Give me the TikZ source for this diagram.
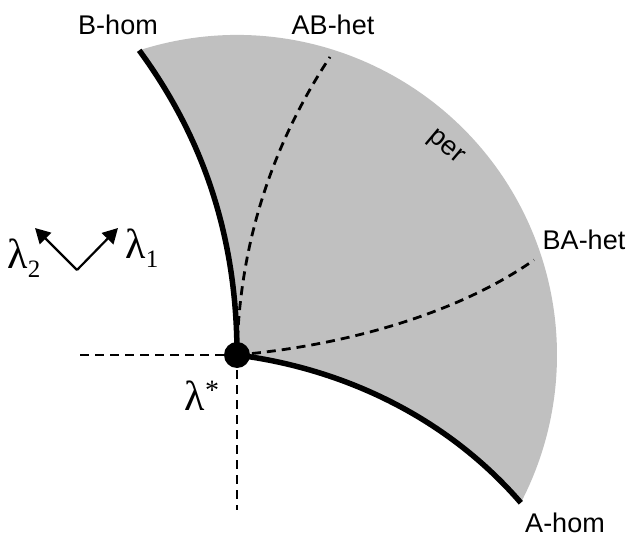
\documentclass[tikz,border=0pt]{standalone}
\usepackage{fontspec}
\setmainfont{Liberation Sans}
\newfontfamily\greekfont{Liberation Serif}
\usepackage{tikz}
\usetikzlibrary{arrows.meta, positioning}
\definecolor{regiongray}{RGB}{192, 192, 192}
\newcommand{\lowidx}[1]{{\fontsize{25}{25}\selectfont\raisebox{-9pt}{#1}}}
\newcommand{\highidx}[1]{{\fontsize{28}{28}\selectfont\raisebox{11pt}{#1}}}

\begin{document}
\begin{tikzpicture}[
    x=1pt, y=1pt,
    hom/.style={line width=5.5pt, black},
    het/.style={line width=2.8pt, dash pattern=on 9pt off 6pt},
    label/.style={font=\fontsize{27}{32}\selectfont, inner sep=0pt},
    greek/.style={font=\greekfont\fontsize{42}{46}\selectfont, inner sep=0pt},
    axis/.style={-{Triangle[length=15pt, width=16pt]}, line width=2.2pt}
]
\useasboundingbox (0,0) rectangle (634,-540);

% Critical point and curve ends
\coordinate (crit) at (237,-355);
\coordinate (bhom) at ([shift={(107.8:320)}]crit);
\coordinate (ahom) at ([shift={(-27.5:320)}]crit);
\coordinate (abhet) at (330,-57);
\coordinate (bahet) at (534,-260);
\coordinate (hleft) at (80,-355);
\coordinate (vbot) at (237,-510);

% Periodic region
\fill[regiongray] (crit) .. controls (237,-240) and (205,-140) .. (bhom)
    arc[start angle=107.8, end angle=-27.5, radius=320]
    .. controls (445,-415) and (340,-368) .. (crit);

% Heteroclinic curves and axes
\draw[het] (crit) .. controls (239,-240) and (275,-140) .. (abhet);
\draw[het] (crit) .. controls (350,-345) and (460,-312) .. (bahet);
\draw[het] (hleft) -- (crit);
\draw[het] (crit) -- (vbot);

% Homoclinic curves
\draw[hom] (crit) .. controls (237,-240) and (205,-140) .. (bhom);
\draw[hom] (crit) .. controls (340,-368) and (445,-415) .. (ahom);

% Point
\node[circle, fill=black, minimum size=26pt, inner sep=0pt] (dot) at (crit) {};

% Labels
\node[label] (bhomlabel) at (118,-25) {B-hom};
\node[label] (abhetlabel) at (333,-25) {AB-het};
\node[label] (bahetlabel) at (584,-240) {BA-het};
\node[label] (ahomlabel) at (565,-523) {A-hom};
\node[label, rotate=-40] (perlabel) at (445,-148) {per};
\node[greek] (lstar) at (202,-396) {λ\highidx{*}};

% Direction arrows
\coordinate (corner) at (77,-270);
\coordinate (tipone) at (118,-228);
\coordinate (tiptwo) at (35,-228);
\draw[axis] (corner) -- (tipone);
\draw[axis] (corner) -- (tiptwo);
\node[greek] (lone) at (142,-248) {λ\lowidx{1}};
\node[greek] (ltwo) at (24,-258) {λ\lowidx{2}};
\end{tikzpicture}
\end{document}
